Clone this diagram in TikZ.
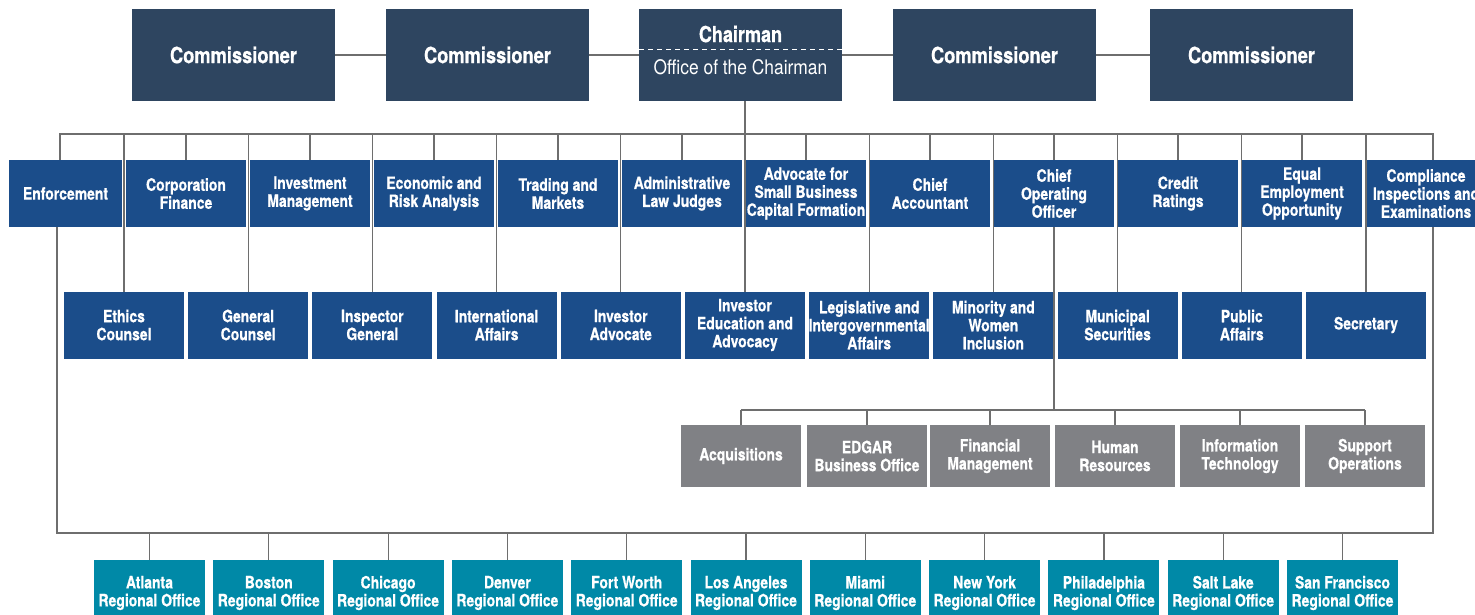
\documentclass[tikz,border=0pt]{standalone}
\usepackage{fontspec}
\newfontfamily\orgfont{TeX Gyre Heros}[FakeStretch=0.82, BoldFeatures={FakeBold=0.6}]
\newfontfamily\orgfontwide{TeX Gyre Heros}[FakeStretch=0.87]
\usepackage{tikz}
\usetikzlibrary{positioning}

\definecolor{topblue}{RGB}{46,69,96}
\definecolor{deptblue}{RGB}{27,77,138}
\definecolor{opsgrey}{RGB}{128,129,133}
\definecolor{regteal}{RGB}{0,137,167}
\definecolor{linegrey}{RGB}{110,110,110}

\begin{document}
\begin{tikzpicture}[
        x=1pt, y=-1pt,
        board/.style={
                rectangle,
                fill=topblue,
                text=white,
                outer sep=0pt,
                minimum width=203pt,
                minimum height=92pt,
                font=\orgfont\bfseries\fontsize{22.3}{24}\selectfont
            },
        dept/.style={
                rectangle,
                fill=deptblue,
                text=white,
                align=center,
                inner xsep=0pt,
                outer sep=0pt,
                minimum width=120pt,
                minimum height=67pt,
                font=\orgfont\bfseries\fontsize{17}{18}\selectfont
            },
        ops/.style={
                dept,
                fill=opsgrey,
                minimum height=62pt
            },
        region/.style={
                dept,
                fill=regteal,
                minimum width=111pt,
                minimum height=66pt
            },
        link/.style={
                draw=linegrey,
                line width=1.2pt
            }
    ]
    \useasboundingbox (0,0) rectangle (1475,615);

    % commission
    \node[board] (comm1) at (233.5,55) {Commissioner};
    \node[board] (comm2) [right=51pt of comm1] {Commissioner};
    \node[board] (chair) [right=50pt of comm2] {};
    \node[board] (comm3) [right=51pt of chair] {Commissioner};
    \node[board] (comm4) [right=54pt of comm3] {Commissioner};
    \node[text=white, font=\orgfont\bfseries\fontsize{22}{24}\selectfont] (chairtitle) at ([yshift=-25pt]chair.north) {Chairman};
    \node[text=white, font=\orgfontwide\fontsize{20}{22}\selectfont] (chairoffice) at ([yshift=-58pt]chair.north) {Office of the Chairman};
    \draw[white, line width=0.8pt, dash pattern=on 5pt off 4pt] ([yshift=-40pt]chair.north west) -- ([yshift=-40pt]chair.north east);

    % divisions
    \node[dept, minimum width=113pt] (enf) at (65.5,193.5) {Enforcement};
    \node[dept] (corpfin) [right=4pt of enf] {Corporation\\Finance};
    \node[dept] (invmgmt) [right=4pt of corpfin] {Investment\\Management};
    \node[dept] (econrisk) [right=4pt of invmgmt] {Economic and\\Risk Analysis};
    \node[dept] (trading) [right=4pt of econrisk] {Trading and\\Markets};
    \node[dept] (alj) [right=4pt of trading] {Administrative\\Law Judges};
    \node[dept] (smallbiz) [right=4pt of alj] {Advocate for\\Small Business\\\makebox[110pt]{Capital Formation}};
    \node[dept] (chiefacc) [right=4pt of smallbiz] {Chief\\Accountant};
    \node[dept] (coo) [right=4pt of chiefacc] {Chief\\Operating\\Officer};
    \node[dept] (credit) [right=4pt of coo] {Credit\\Ratings};
    \node[dept] (eeo) [right=4pt of credit] {Equal\\Employment\\Opportunity};
    \node[dept] (comp) [right=4pt of eeo] {Compliance\\\makebox[110pt]{Inspections and}\\Examinations};

    % offices
    \node[dept] (ethics) at (124,325) {Ethics\\Counsel};
    \node[dept] (gencoun) [right=4.2pt of ethics] {General\\Counsel};
    \node[dept] (inspgen) [right=4.2pt of gencoun] {Inspector\\General};
    \node[dept] (intl) [right=4.2pt of inspgen] {International\\Affairs};
    \node[dept] (invadv) [right=4.2pt of intl] {Investor\\Advocate};
    \node[dept] (invedu) [right=4.2pt of invadv] {Investor\\Education and\\Advocacy};
    \node[dept] (legis) [right=4.2pt of invedu] {Legislative and\\\makebox[110pt]{Intergovernmental}\\Affairs};
    \node[dept] (minority) [right=4.2pt of legis] {Minority and\\Women\\Inclusion};
    \node[dept] (muni) [right=4.2pt of minority] {Municipal\\Securities};
    \node[dept] (public) [right=4.2pt of muni] {Public\\Affairs};
    \node[dept] (secretary) [right=4.2pt of public] {Secretary};

    % operations
    \node[ops] (acq) at (741,456) {Acquisitions};
    \node[ops] (edgar) [right=6pt of acq] {EDGAR\\Business Office};
    \node[ops] (finmgmt) [right=3pt of edgar] {Financial\\Management};
    \node[ops] (hr) [right=5pt of finmgmt] {Human\\Resources};
    \node[ops] (it) [right=5pt of hr] {Information\\Technology};
    \node[ops] (support) [right=5pt of it] {Support\\Operations};

    % regional offices
    \node[region] (atlanta) at (149.5,593) {Atlanta\\Regional Office};
    \node[region] (boston) [right=8.3pt of atlanta] {Boston\\Regional Office};
    \node[region] (chicago) [right=8.3pt of boston] {Chicago\\Regional Office};
    \node[region] (denver) [right=8.3pt of chicago] {Denver\\Regional Office};
    \node[region] (fortworth) [right=8.3pt of denver] {Fort Worth\\Regional Office};
    \node[region] (losangeles) [right=8.3pt of fortworth] {Los Angeles\\Regional Office};
    \node[region] (miami) [right=8.3pt of losangeles] {Miami\\Regional Office};
    \node[region] (newyork) [right=8.3pt of miami] {New York\\Regional Office};
    \node[region] (phila) [right=8.3pt of newyork] {Philadelphia\\Regional Office};
    \node[region] (saltlake) [right=8.3pt of phila] {Salt Lake\\Regional Office};
    \node[region] (sanfran) [right=8.3pt of saltlake] {San Francisco\\Regional Office};

    \coordinate (busL) at (60,134);
    \coordinate (busR) at (1433,134);
    \coordinate (lowL) at (57,533);
    \coordinate (lowR) at (1433,533);
    \coordinate (opsbus) at (1054,410);

    \path[link] (comm1.east) -- (comm2.west);
    \path[link] (comm2.east) -- (chair.west);
    \path[link] (chair.east) -- (comm3.west);
    \path[link] (comm3.east) -- (comm4.west);

    \path[link] (busL |- enf.north) -- (busL) -- (busR) -- (busR |- comp.north);
    \path[link] (invedu.north) -- (invedu.north |- chair.south);
    \path[link] (corpfin.north) -- (corpfin.north |- busL);
    \path[link] (invmgmt.north) -- (invmgmt.north |- busL);
    \path[link] (econrisk.north) -- (econrisk.north |- busL);
    \path[link] (trading.north) -- (trading.north |- busL);
    \path[link] (alj.north) -- (alj.north |- busL);
    \path[link] (smallbiz.north) -- (smallbiz.north |- busL);
    \path[link] (chiefacc.north) -- (chiefacc.north |- busL);
    \path[link] (coo.north) -- (coo.north |- busL);
    \path[link] (credit.north) -- (credit.north |- busL);
    \path[link] (eeo.north) -- (eeo.north |- busL);

    \path[link] (ethics.north) -- (ethics.north |- busL);
    \path[link] (gencoun.north) -- (gencoun.north |- busL);
    \path[link] (inspgen.north) -- (inspgen.north |- busL);
    \path[link] (intl.north) -- (intl.north |- busL);
    \path[link] (invadv.north) -- (invadv.north |- busL);
    \path[link] (legis.north) -- (legis.north |- busL);
    \path[link] (minority.north) -- (minority.north |- busL);
    \path[link] (muni.north) -- (muni.north |- busL);
    \path[link] (public.north) -- (public.north |- busL);
    \path[link] (secretary.north) -- (secretary.north |- busL);

    \path[link] (coo.south) -- (opsbus);
    \path[link] (acq.north |- opsbus) -- (support.north |- opsbus);
    \path[link] (acq.north) -- (acq.north |- opsbus);
    \path[link] (edgar.north) -- (edgar.north |- opsbus);
    \path[link] (finmgmt.north) -- (finmgmt.north |- opsbus);
    \path[link] (hr.north) -- (hr.north |- opsbus);
    \path[link] (it.north) -- (it.north |- opsbus);
    \path[link] (support.north) -- (support.north |- opsbus);

    \path[link] (lowL |- enf.south) -- (lowL) -- (lowR) -- (lowR |- comp.south);
    \path[link] (atlanta.north) -- (atlanta.north |- lowL);
    \path[link] (boston.north) -- (boston.north |- lowL);
    \path[link] (chicago.north) -- (chicago.north |- lowL);
    \path[link] (denver.north) -- (denver.north |- lowL);
    \path[link] (fortworth.north) -- (fortworth.north |- lowL);
    \path[link] (losangeles.north) -- (losangeles.north |- lowL);
    \path[link] (miami.north) -- (miami.north |- lowL);
    \path[link] (newyork.north) -- (newyork.north |- lowL);
    \path[link] (phila.north) -- (phila.north |- lowL);
    \path[link] (saltlake.north) -- (saltlake.north |- lowL);
    \path[link] (sanfran.north) -- (sanfran.north |- lowL);
\end{tikzpicture}
\end{document}
